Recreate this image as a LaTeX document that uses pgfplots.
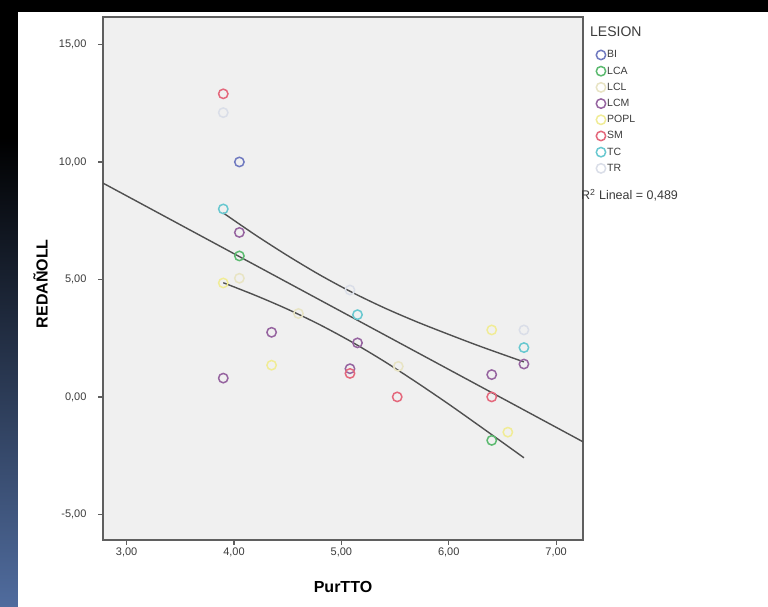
\documentclass[border=0pt]{standalone}
\usepackage{fontspec}
\setmainfont{Liberation Sans}
\usepackage{pgfplots}
\pgfplotsset{compat=1.18}

\definecolor{plotbg}{RGB}{240,240,240}
\definecolor{axisgray}{RGB}{95,95,95}
\definecolor{txtgray}{RGB}{60,60,60}
\definecolor{fitgray}{RGB}{80,80,80}
\definecolor{cBI}{RGB}{112,122,192}
\definecolor{cLCA}{RGB}{92,186,112}
\definecolor{cLCL}{RGB}{232,228,196}
\definecolor{cLCM}{RGB}{150,100,160}
\definecolor{cPOPL}{RGB}{240,236,150}
\definecolor{cSM}{RGB}{228,104,124}
\definecolor{cTC}{RGB}{104,200,208}
\definecolor{cTR}{RGB}{218,222,232}
\definecolor{stripblue}{RGB}{80,108,158}

\pgfplotsset{
  pt/.style={only marks, mark=o, mark size=4.7pt, line width=1.5pt, draw=#1},
}

\begin{document}
\begin{tikzpicture}
% page background
\fill[black] (0pt,0pt) rectangle (768pt,607pt);
\shade[top color=black, bottom color=stripblue] (0pt,0pt) rectangle (18pt,470pt);
\fill[white] (18pt,0pt) rectangle (768pt,595pt);

\begin{axis}[
    at={(103pt,67pt)}, anchor=south west,
    scale only axis, width=480pt, height=523pt,
    xmin=2.78, xmax=7.25, ymin=-6.09, ymax=16.17,
    axis background/.style={fill=plotbg},
    axis line style={draw=axisgray, line width=1.3pt},
    tick align=outside, tick pos=left,
    major tick length=5pt,
    tick style={draw=axisgray, line width=1.2pt},
    xtick={3,4,5,6,7},
    xticklabels={{3,00},{4,00},{5,00},{6,00},{7,00}},
    ytick={-5,0,5,10,15},
    yticklabels={{-5,00},{0,00},{5,00},{10,00},{15,00}},
    ticklabel style={font=\fontsize{11}{12}\selectfont, text=txtgray},
    yticklabel style={xshift=-8pt},
    xticklabel style={yshift=1pt},
    xlabel={PurTTO}, ylabel={REDAÑOLL},
    label style={font=\bfseries\fontsize{16}{18}\selectfont, text=black},
    xlabel style={at={(axis description cs:0.5,-0.09)}, anchor=center},
    ylabel style={at={(axis description cs:-0.13,0.49)}, anchor=center},
    legend style={at={(axis description cs:1.021,0.944)}, anchor=north west,
      draw=none, fill=none, font=\fontsize{10.5}{12}\selectfont, text=txtgray,
      row sep=3.2pt, nodes={inner sep=1.5pt, text height=8pt, text depth=2pt}},
    legend cell align=left,
    legend image code/.code={\draw[#1] plot coordinates {(0pt,0pt)};},
]

% fit line and 95% mean confidence bands
\addplot[fitgray, line width=1.4pt, forget plot] coordinates {(2.78,9.10) (7.25,-1.91)};
\addplot[fitgray, line width=1.4pt, smooth, forget plot] coordinates {
(3.9,7.83) (4.2,6.89) (4.5,6.01) (4.8,5.19) (5.1,4.45) (5.4,3.79)
(5.7,3.20) (6.0,2.66) (6.3,2.14) (6.7,1.49)};
\addplot[fitgray, line width=1.4pt, smooth, forget plot] coordinates {
(3.9,4.86) (4.2,4.32) (4.5,3.73) (4.8,3.07) (5.1,2.33) (5.4,1.51)
(5.7,0.62) (6.0,-0.31) (6.3,-1.28) (6.7,-2.59)};

\addplot[pt=cBI] coordinates {(4.05,10.0)};
\addlegendentry{BI}
\addplot[pt=cLCA] coordinates {(4.05,6.0) (6.4,-1.85)};
\addlegendentry{LCA}
\addplot[pt=cLCL] coordinates {(4.05,5.05) (4.6,3.55) (5.53,1.3)};
\addlegendentry{LCL}
\addplot[pt=cLCM] coordinates {(4.05,7.0) (4.35,2.75) (3.9,0.8) (5.08,1.2) (5.15,2.3) (6.4,0.95) (6.7,1.4)};
\addlegendentry{LCM}
\addplot[pt=cPOPL] coordinates {(3.9,4.85) (4.35,1.35) (6.4,2.85) (6.55,-1.5)};
\addlegendentry{POPL}
\addplot[pt=cSM] coordinates {(3.9,12.9) (5.08,1.0) (5.52,0.0) (6.4,0.0)};
\addlegendentry{SM}
\addplot[pt=cTC] coordinates {(3.9,8.0) (5.15,3.5) (6.7,2.1)};
\addlegendentry{TC}
\addplot[pt=cTR] coordinates {(3.9,12.1) (5.08,4.55) (6.7,2.85)};
\addlegendentry{TR}
\end{axis}

\node[anchor=west, inner sep=0pt, text=txtgray, font=\fontsize{14}{16}\selectfont] at (590pt,575pt) {LESION};
\node[anchor=west, inner sep=0pt, text=txtgray, font=\fontsize{12.5}{14}\selectfont] at (581pt,412pt) {R\textsuperscript{2} Lineal = 0,489};

\pgfresetboundingbox
\path (0pt,0pt) rectangle (768pt,607pt);
\end{tikzpicture}
\end{document}
